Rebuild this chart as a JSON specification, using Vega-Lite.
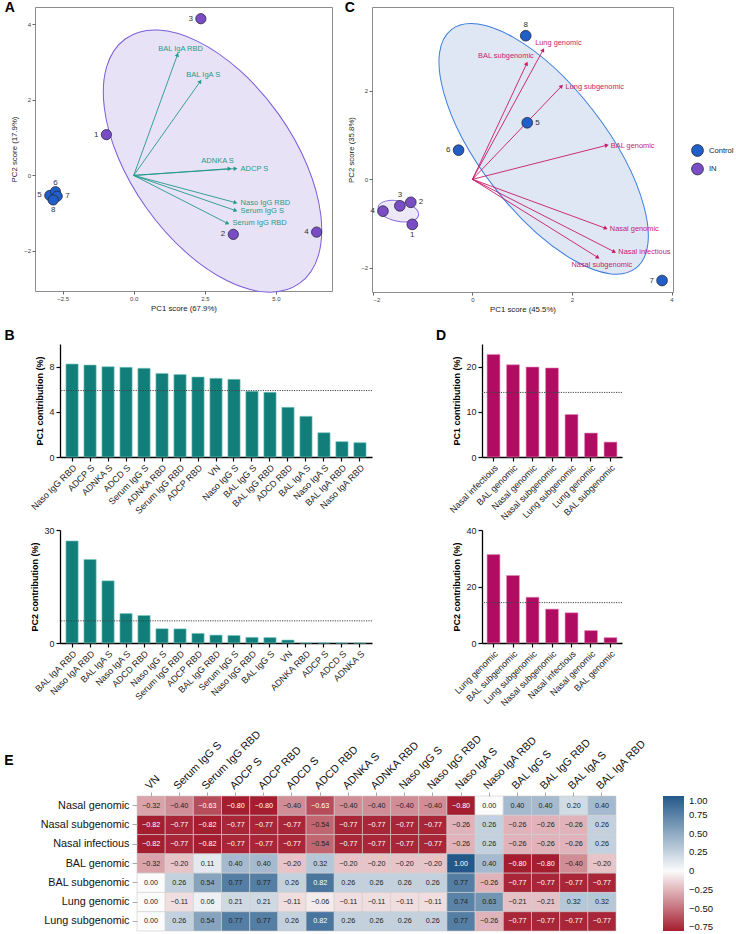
{
"$schema":"https://vega.github.io/schema/vega-lite/v6.json",
"background":"white",
"padding":{"left":3,"top":0,"right":0,"bottom":0},
"config":{
  "font":"Liberation Sans",
  "view":{"stroke":null},
  "title":{"fontSize":14,"fontWeight":"bold","anchor":"start","frame":"bounds","color":"#000","offset":4},
  "axis":{"grid":false}
},
"datasets":{
  "ptsA":[
    {"id":"1","group":"IN","x":-0.96,"y":1.08},
    {"id":"2","group":"IN","x":3.5,"y":-1.56},
    {"id":"3","group":"IN","x":2.36,"y":4.15},
    {"id":"4","group":"IN","x":6.43,"y":-1.5},
    {"id":"5","group":"Control","x":-2.95,"y":-0.53},
    {"id":"6","group":"Control","x":-2.75,"y":-0.43},
    {"id":"7","group":"Control","x":-2.69,"y":-0.55},
    {"id":"8","group":"Control","x":-2.83,"y":-0.65}
  ],
  "arrA":[
    {"var":"BAL IgA RBD","x":1.54,"y":3.2},
    {"var":"BAL IgA S","x":2.34,"y":2.49},
    {"var":"ADNKA S","x":3.37,"y":0.18},
    {"var":"ADCP S","x":3.58,"y":0.18},
    {"var":"Naso IgG RBD","x":3.58,"y":-0.72},
    {"var":"Serum IgG S","x":3.58,"y":-0.93},
    {"var":"Serum IgG RBD","x":3.3,"y":-1.27}
  ],
  "ptsC":[
    {"id":"1","group":"IN","x":-1.21,"y":-1.02},
    {"id":"2","group":"IN","x":-1.24,"y":-0.52},
    {"id":"3","group":"IN","x":-1.46,"y":-0.6},
    {"id":"4","group":"IN","x":-1.8,"y":-0.72},
    {"id":"5","group":"Control","x":1.1,"y":1.28},
    {"id":"6","group":"Control","x":-0.28,"y":0.66},
    {"id":"7","group":"Control","x":3.81,"y":-2.29},
    {"id":"8","group":"Control","x":1.07,"y":3.25}
  ],
  "arrC":[
    {"var":"Lung genomic","x":1.42,"y":2.93},
    {"var":"BAL subgenomic","x":1.09,"y":2.62},
    {"var":"Lung subgenomic","x":1.79,"y":2.11},
    {"var":"BAL genomic","x":2.7,"y":0.77},
    {"var":"Nasal genomic","x":2.68,"y":-1.11},
    {"var":"Nasal infectious","x":2.85,"y":-1.64},
    {"var":"Nasal subgenomic","x":2.52,"y":-1.77}
  ],
  "b1":[
    {"v":"Naso IgG RBD","c":8.23},{"v":"ADCP S","c":8.14},{"v":"ADNKA S","c":7.99},{"v":"ADCD S","c":7.94},
    {"v":"Serum IgG S","c":7.85},{"v":"ADNKA RBD","c":7.4},{"v":"Serum IgG RBD","c":7.29},{"v":"ADCP RBD","c":7.08},
    {"v":"VN","c":6.96},{"v":"Naso IgG S","c":6.87},{"v":"BAL IgG S","c":5.81},{"v":"BAL IgG RBD","c":5.72},
    {"v":"ADCD RBD","c":4.4},{"v":"BAL IgA S","c":3.6},{"v":"Naso IgA S","c":2.15},{"v":"BAL IgA RBD","c":1.36},
    {"v":"Naso IgA RBD","c":1.27}
  ],
  "b2":[
    {"v":"BAL IgA RBD","c":27.1},{"v":"Naso IgA RBD","c":22.2},{"v":"BAL IgA S","c":16.5},{"v":"Naso IgA S","c":7.8},
    {"v":"ADCD RBD","c":7.3},{"v":"Naso IgG S","c":3.8},{"v":"Serum IgG RBD","c":3.75},{"v":"ADCP RBD","c":2.55},
    {"v":"BAL IgG RBD","c":2.1},{"v":"Serum IgG S","c":2.0},{"v":"Naso IgG RBD","c":1.5},{"v":"BAL IgG S","c":1.45},
    {"v":"VN","c":0.8},{"v":"ADNKA RBD","c":0.05},{"v":"ADCP S","c":0.03},{"v":"ADCD S","c":0.02},{"v":"ADNKA S","c":0.02}
  ],
  "d1":[
    {"v":"Nasal infectious","c":22.7},{"v":"BAL genomic","c":20.4},{"v":"Nasal genomic","c":19.9},
    {"v":"Nasal subgenomic","c":19.7},{"v":"Lung subgenomic","c":9.4},{"v":"Lung genomic","c":5.3},{"v":"BAL subgenomic","c":3.3}
  ],
  "d2":[
    {"v":"Lung genomic","c":31.3},{"v":"BAL subgenomic","c":23.9},{"v":"Lung subgenomic","c":16.2},
    {"v":"Nasal subgenomic","c":12.0},{"v":"Nasal infectious","c":10.7},{"v":"Nasal genomic","c":4.4},{"v":"BAL genomic","c":1.9}
  ],
  "heat":[
    {"r":"Nasal genomic","c":"VN","v":-0.32},{"r":"Nasal genomic","c":"Serum IgG S","v":-0.40},{"r":"Nasal genomic","c":"Serum IgG RBD","v":-0.63},{"r":"Nasal genomic","c":"ADCP S","v":-0.80},{"r":"Nasal genomic","c":"ADCP RBD","v":-0.80},{"r":"Nasal genomic","c":"ADCD S","v":-0.40},{"r":"Nasal genomic","c":"ADCD RBD","v":-0.63},{"r":"Nasal genomic","c":"ADNKA S","v":-0.40},{"r":"Nasal genomic","c":"ADNKA RBD","v":-0.40},{"r":"Nasal genomic","c":"Naso IgG S","v":-0.40},{"r":"Nasal genomic","c":"Naso IgG RBD","v":-0.40},{"r":"Nasal genomic","c":"Naso IgA S","v":-0.80},{"r":"Nasal genomic","c":"Naso IgA RBD","v":0.00},{"r":"Nasal genomic","c":"BAL IgG S","v":0.40},{"r":"Nasal genomic","c":"BAL IgG RBD","v":0.40},{"r":"Nasal genomic","c":"BAL IgA S","v":0.20},{"r":"Nasal genomic","c":"BAL IgA RBD","v":0.40},
    {"r":"Nasal subgenomic","c":"VN","v":-0.82},{"r":"Nasal subgenomic","c":"Serum IgG S","v":-0.77},{"r":"Nasal subgenomic","c":"Serum IgG RBD","v":-0.82},{"r":"Nasal subgenomic","c":"ADCP S","v":-0.77},{"r":"Nasal subgenomic","c":"ADCP RBD","v":-0.77},{"r":"Nasal subgenomic","c":"ADCD S","v":-0.77},{"r":"Nasal subgenomic","c":"ADCD RBD","v":-0.54},{"r":"Nasal subgenomic","c":"ADNKA S","v":-0.77},{"r":"Nasal subgenomic","c":"ADNKA RBD","v":-0.77},{"r":"Nasal subgenomic","c":"Naso IgG S","v":-0.77},{"r":"Nasal subgenomic","c":"Naso IgG RBD","v":-0.77},{"r":"Nasal subgenomic","c":"Naso IgA S","v":-0.26},{"r":"Nasal subgenomic","c":"Naso IgA RBD","v":0.26},{"r":"Nasal subgenomic","c":"BAL IgG S","v":-0.26},{"r":"Nasal subgenomic","c":"BAL IgG RBD","v":-0.26},{"r":"Nasal subgenomic","c":"BAL IgA S","v":-0.26},{"r":"Nasal subgenomic","c":"BAL IgA RBD","v":0.26},
    {"r":"Nasal infectious","c":"VN","v":-0.82},{"r":"Nasal infectious","c":"Serum IgG S","v":-0.77},{"r":"Nasal infectious","c":"Serum IgG RBD","v":-0.82},{"r":"Nasal infectious","c":"ADCP S","v":-0.77},{"r":"Nasal infectious","c":"ADCP RBD","v":-0.77},{"r":"Nasal infectious","c":"ADCD S","v":-0.77},{"r":"Nasal infectious","c":"ADCD RBD","v":-0.54},{"r":"Nasal infectious","c":"ADNKA S","v":-0.77},{"r":"Nasal infectious","c":"ADNKA RBD","v":-0.77},{"r":"Nasal infectious","c":"Naso IgG S","v":-0.77},{"r":"Nasal infectious","c":"Naso IgG RBD","v":-0.77},{"r":"Nasal infectious","c":"Naso IgA S","v":-0.26},{"r":"Nasal infectious","c":"Naso IgA RBD","v":0.26},{"r":"Nasal infectious","c":"BAL IgG S","v":-0.26},{"r":"Nasal infectious","c":"BAL IgG RBD","v":-0.26},{"r":"Nasal infectious","c":"BAL IgA S","v":-0.26},{"r":"Nasal infectious","c":"BAL IgA RBD","v":0.26},
    {"r":"BAL genomic","c":"VN","v":-0.32},{"r":"BAL genomic","c":"Serum IgG S","v":-0.20},{"r":"BAL genomic","c":"Serum IgG RBD","v":0.11},{"r":"BAL genomic","c":"ADCP S","v":0.40},{"r":"BAL genomic","c":"ADCP RBD","v":0.40},{"r":"BAL genomic","c":"ADCD S","v":-0.20},{"r":"BAL genomic","c":"ADCD RBD","v":0.32},{"r":"BAL genomic","c":"ADNKA S","v":-0.20},{"r":"BAL genomic","c":"ADNKA RBD","v":-0.20},{"r":"BAL genomic","c":"Naso IgG S","v":-0.20},{"r":"BAL genomic","c":"Naso IgG RBD","v":-0.20},{"r":"BAL genomic","c":"Naso IgA S","v":1.00},{"r":"BAL genomic","c":"Naso IgA RBD","v":0.40},{"r":"BAL genomic","c":"BAL IgG S","v":-0.80},{"r":"BAL genomic","c":"BAL IgG RBD","v":-0.80},{"r":"BAL genomic","c":"BAL IgA S","v":-0.40},{"r":"BAL genomic","c":"BAL IgA RBD","v":-0.20},
    {"r":"BAL subgenomic","c":"VN","v":0.00},{"r":"BAL subgenomic","c":"Serum IgG S","v":0.26},{"r":"BAL subgenomic","c":"Serum IgG RBD","v":0.54},{"r":"BAL subgenomic","c":"ADCP S","v":0.77},{"r":"BAL subgenomic","c":"ADCP RBD","v":0.77},{"r":"BAL subgenomic","c":"ADCD S","v":0.26},{"r":"BAL subgenomic","c":"ADCD RBD","v":0.82},{"r":"BAL subgenomic","c":"ADNKA S","v":0.26},{"r":"BAL subgenomic","c":"ADNKA RBD","v":0.26},{"r":"BAL subgenomic","c":"Naso IgG S","v":0.26},{"r":"BAL subgenomic","c":"Naso IgG RBD","v":0.26},{"r":"BAL subgenomic","c":"Naso IgA S","v":0.77},{"r":"BAL subgenomic","c":"Naso IgA RBD","v":-0.26},{"r":"BAL subgenomic","c":"BAL IgG S","v":-0.77},{"r":"BAL subgenomic","c":"BAL IgG RBD","v":-0.77},{"r":"BAL subgenomic","c":"BAL IgA S","v":-0.77},{"r":"BAL subgenomic","c":"BAL IgA RBD","v":-0.77},
    {"r":"Lung genomic","c":"VN","v":0.00},{"r":"Lung genomic","c":"Serum IgG S","v":-0.11},{"r":"Lung genomic","c":"Serum IgG RBD","v":0.06},{"r":"Lung genomic","c":"ADCP S","v":0.21},{"r":"Lung genomic","c":"ADCP RBD","v":0.21},{"r":"Lung genomic","c":"ADCD S","v":-0.11},{"r":"Lung genomic","c":"ADCD RBD","v":-0.06},{"r":"Lung genomic","c":"ADNKA S","v":-0.11},{"r":"Lung genomic","c":"ADNKA RBD","v":-0.11},{"r":"Lung genomic","c":"Naso IgG S","v":-0.11},{"r":"Lung genomic","c":"Naso IgG RBD","v":-0.11},{"r":"Lung genomic","c":"Naso IgA S","v":0.74},{"r":"Lung genomic","c":"Naso IgA RBD","v":0.63},{"r":"Lung genomic","c":"BAL IgG S","v":-0.21},{"r":"Lung genomic","c":"BAL IgG RBD","v":-0.21},{"r":"Lung genomic","c":"BAL IgA S","v":0.32},{"r":"Lung genomic","c":"BAL IgA RBD","v":0.32},
    {"r":"Lung subgenomic","c":"VN","v":0.00},{"r":"Lung subgenomic","c":"Serum IgG S","v":0.26},{"r":"Lung subgenomic","c":"Serum IgG RBD","v":0.54},{"r":"Lung subgenomic","c":"ADCP S","v":0.77},{"r":"Lung subgenomic","c":"ADCP RBD","v":0.77},{"r":"Lung subgenomic","c":"ADCD S","v":0.26},{"r":"Lung subgenomic","c":"ADCD RBD","v":0.82},{"r":"Lung subgenomic","c":"ADNKA S","v":0.26},{"r":"Lung subgenomic","c":"ADNKA RBD","v":0.26},{"r":"Lung subgenomic","c":"Naso IgG S","v":0.26},{"r":"Lung subgenomic","c":"Naso IgG RBD","v":0.26},{"r":"Lung subgenomic","c":"Naso IgA S","v":0.77},{"r":"Lung subgenomic","c":"Naso IgA RBD","v":-0.26},{"r":"Lung subgenomic","c":"BAL IgG S","v":-0.77},{"r":"Lung subgenomic","c":"BAL IgG RBD","v":-0.77},{"r":"Lung subgenomic","c":"BAL IgA S","v":-0.77},{"r":"Lung subgenomic","c":"BAL IgA RBD","v":-0.77}
  ]
},
"resolve":{"scale":{"color":"independent"},"legend":{"color":"independent"}},
"columns":1,
"spacing":20,
"concat":[
 {"columns":1,
  "spacing":15,
  "resolve":{"scale":{"color":"independent"},"legend":{"color":"independent"}},
  "concat":[
   {"spacing":0,
    "resolve":{"legend":{"color":"independent"}},
    "hconcat":[
     {"width":1,"height":1,"data":{"values":[]},"mark":"point"},
     {"spacing":11,
      "resolve":{"legend":{"color":"independent"}},
      "hconcat":[
     {
      "title":{"text":"A","dx":-6,"dy":12},
      "width":297,"height":284,
      "view":{"stroke":"#8c8c8c","strokeWidth":1},
      "encoding":{
        "x":{"field":"x","type":"quantitative","scale":{"domain":[-3.47,6.97],"nice":false,"zero":false},
             "axis":{"title":"PC1 score (67.9%)","values":[-2.5,0,2.5,5],"format":".1f","domain":false,"tickSize":3,"tickColor":"#666","labelFontSize":6,"labelColor":"#444","titleFontSize":7.8,"titleFontWeight":"normal","titleColor":"#222","labelPadding":1.5,"titlePadding":3}},
        "y":{"field":"y","type":"quantitative","scale":{"domain":[-3.06,4.46],"nice":false,"zero":false},
             "axis":{"title":"PC2 score (17.9%)","values":[-2,0,2,4],"domain":false,"tickSize":3,"tickColor":"#666","labelFontSize":6,"labelColor":"#444","titleFontSize":7.8,"titleFontWeight":"normal","titleColor":"#222","labelPadding":1.5,"titlePadding":5}}
      },
      "layer":[
        {"data":{"values":[{"x":2.77,"y":0.38}]},
         "mark":{"type":"point","shape":"M-1,0A1,0.54,0,1,0,1,0A1,0.54,0,1,0,-1,0Z","size":90120,"angle":54.6,"filled":true,"fill":"#e8e2f6","stroke":"#7b5cd8","strokeWidth":1,"opacity":1}},
        {"data":{"values":[{}]},"mark":{"type":"rule","strokeDash":[4,3],"color":"#7a7a7a","strokeWidth":1.3},
         "encoding":{"x":{"datum":0},"y":{"datum":-3.06},"y2":{"datum":4.46}}},
        {"data":{"values":[{}]},"mark":{"type":"rule","strokeDash":[4,3],"color":"#7a7a7a","strokeWidth":1.3},
         "encoding":{"y":{"datum":0},"x":{"datum":-3.47},"x2":{"datum":6.97}}},
        {"data":{"name":"arrA"},"mark":{"type":"rule","color":"#24998b","strokeWidth":0.9},
         "encoding":{"x2":{"datum":0},"y2":{"datum":0}}},
        {"data":{"name":"arrA"},
         "transform":[{"calculate":"atan2(-datum.y*37.77, datum.x*28.45)*180/PI","as":"ang"}],
         "mark":{"type":"point","shape":"triangle-right","filled":true,"size":20,"color":"#24998b","opacity":1},
         "encoding":{"angle":{"field":"ang","type":"quantitative","scale":null}}},
        {"data":{"name":"arrA"},"transform":[{"filter":{"field":"var","oneOf":["BAL IgA RBD","BAL IgA S"]}}],
         "mark":{"type":"text","fontSize":7.5,"color":"#1f9a8b","align":"center","baseline":"middle","dx":3,"dy":-6},
         "encoding":{"text":{"field":"var"}}},
        {"data":{"name":"arrA"},"transform":[{"filter":{"field":"var","oneOf":["ADNKA S"]}}],
         "mark":{"type":"text","fontSize":7.5,"color":"#1f9a8b","align":"center","baseline":"middle","dx":-12,"dy":-8},
         "encoding":{"text":{"field":"var"}}},
        {"data":{"name":"arrA"},"transform":[{"filter":{"field":"var","oneOf":["ADCP S","Naso IgG RBD","Serum IgG S","Serum IgG RBD"]}}],
         "mark":{"type":"text","fontSize":7.5,"color":"#1f9a8b","align":"left","baseline":"middle","dx":5,"dy":0},
         "encoding":{"text":{"field":"var"}}},
        {"data":{"name":"ptsA"},
         "mark":{"type":"point","shape":"circle","filled":true,"size":105,"stroke":"#2a2a3a","strokeWidth":0.8,"opacity":1},
         "encoding":{"color":{"field":"group","type":"nominal","scale":{"domain":["Control","IN"],"range":["#1f5fc7","#7a4cc6"]},"legend":null}}},
        {"data":{"name":"ptsA"},"transform":[{"filter":{"field":"id","oneOf":["1","2","3","4","5"]}}],
         "mark":{"type":"text","fontSize":8,"color":"#333","align":"right","baseline":"middle","dx":-8},
         "encoding":{"text":{"field":"id"}}},
        {"data":{"name":"ptsA"},"transform":[{"filter":{"field":"id","oneOf":["7"]}}],
         "mark":{"type":"text","fontSize":8,"color":"#333","align":"left","baseline":"middle","dx":8},
         "encoding":{"text":{"field":"id"}}},
        {"data":{"name":"ptsA"},"transform":[{"filter":{"field":"id","oneOf":["6"]}}],
         "mark":{"type":"text","fontSize":8,"color":"#333","align":"center","baseline":"middle","dy":-9},
         "encoding":{"text":{"field":"id"}}},
        {"data":{"name":"ptsA"},"transform":[{"filter":{"field":"id","oneOf":["8"]}}],
         "mark":{"type":"text","fontSize":8,"color":"#333","align":"center","baseline":"middle","dy":10},
         "encoding":{"text":{"field":"id"}}}
      ]
     },
     {
      "title":{"text":"C","dx":-3,"dy":12},
      "width":301,"height":285,
      "view":{"stroke":"#8c8c8c","strokeWidth":1},
      "encoding":{
        "x":{"field":"x","type":"quantitative","scale":{"domain":[-2.02,4.03],"nice":false,"zero":false},
             "axis":{"title":"PC1 score (45.5%)","values":[-2,0,2,4],"domain":false,"tickSize":3,"tickColor":"#666","labelFontSize":6,"labelColor":"#444","titleFontSize":7.8,"titleFontWeight":"normal","titleColor":"#222","labelPadding":1.5,"titlePadding":3}},
        "y":{"field":"y","type":"quantitative","scale":{"domain":[-2.55,3.9],"nice":false,"zero":false},
             "axis":{"title":"PC2 score (35.8%)","values":[-2,0,2],"domain":false,"tickSize":3,"tickColor":"#666","labelFontSize":6,"labelColor":"#444","titleFontSize":7.8,"titleFontWeight":"normal","titleColor":"#222","labelPadding":1.5,"titlePadding":5}}
      },
      "layer":[
        {"data":{"values":[{"x":1.43,"y":0.69}]},
         "mark":{"type":"point","shape":"M-1,0A1,0.415,0,1,0,1,0A1,0.415,0,1,0,-1,0Z","size":90960,"angle":52.3,"filled":true,"fill":"#dfe7f4","stroke":"#3b7ddb","strokeWidth":1,"opacity":1}},
        {"data":{"values":[{"x":-1.49,"y":-0.72}]},
         "mark":{"type":"point","shape":"M-1,0A1,0.49,0,1,0,1,0A1,0.49,0,1,0,-1,0Z","size":1700,"angle":12,"filled":true,"fill":"#ece8f8","stroke":"#8a6fe0","strokeWidth":1,"opacity":1}},
        {"data":{"values":[{}]},"mark":{"type":"rule","strokeDash":[4,3],"color":"#333","strokeWidth":1.2},
         "encoding":{"x":{"datum":0},"y":{"datum":-2.55},"y2":{"datum":3.9}}},
        {"data":{"values":[{}]},"mark":{"type":"rule","strokeDash":[4,3],"color":"#333","strokeWidth":1.2},
         "encoding":{"y":{"datum":0},"x":{"datum":-2.02},"x2":{"datum":4.03}}},
        {"data":{"name":"arrC"},"mark":{"type":"rule","color":"#c81a6a","strokeWidth":0.9},
         "encoding":{"x2":{"datum":0},"y2":{"datum":0}}},
        {"data":{"name":"arrC"},
         "transform":[{"calculate":"atan2(-datum.y*44.19, datum.x*49.75)*180/PI","as":"ang"}],
         "mark":{"type":"point","shape":"triangle-right","filled":true,"size":20,"color":"#c81a6a","opacity":1},
         "encoding":{"angle":{"field":"ang","type":"quantitative","scale":null}}},
        {"data":{"name":"arrC"},"transform":[{"filter":{"field":"var","oneOf":["Lung subgenomic","BAL genomic","Nasal genomic","Nasal infectious"]}}],
         "mark":{"type":"text","fontSize":7.4,"color":"#c81a6a","align":"left","baseline":"middle","dx":4,"dy":0.5},
         "encoding":{"text":{"field":"var"}}},
        {"data":{"name":"arrC"},"transform":[{"filter":{"field":"var","oneOf":["Lung genomic"]}}],
         "mark":{"type":"text","fontSize":7.4,"color":"#c81a6a","align":"left","baseline":"middle","dx":-8,"dy":-7},
         "encoding":{"text":{"field":"var"}}},
        {"data":{"name":"arrC"},"transform":[{"filter":{"field":"var","oneOf":["BAL subgenomic"]}}],
         "mark":{"type":"text","fontSize":7.4,"color":"#c81a6a","align":"right","baseline":"middle","dx":7,"dy":-8},
         "encoding":{"text":{"field":"var"}}},
        {"data":{"name":"arrC"},"transform":[{"filter":{"field":"var","oneOf":["Nasal subgenomic"]}}],
         "mark":{"type":"text","fontSize":7.4,"color":"#c81a6a","align":"center","baseline":"middle","dx":4,"dy":7.5},
         "encoding":{"text":{"field":"var"}}},
        {"data":{"name":"ptsC"},
         "mark":{"type":"point","shape":"circle","filled":true,"size":115,"stroke":"#2a2a3a","strokeWidth":0.8,"opacity":1},
         "encoding":{"color":{"field":"group","type":"nominal","scale":{"domain":["Control","IN"],"range":["#1f5fc7","#7a4cc6"]},
           "legend":{"orient":"none","legendX":319,"legendY":137,"title":null,"symbolType":"circle","symbolSize":140,"labelFontSize":7.6,"labelColor":"#222","symbolStrokeColor":"#2a2a3a","symbolStrokeWidth":0.8,"rowPadding":1.5,"labelOffset":5,"padding":0,"symbolOpacity":1}}}},
        {"data":{"name":"ptsC"},"transform":[{"filter":{"field":"id","oneOf":["4","6","7"]}}],
         "mark":{"type":"text","fontSize":8,"color":"#333","align":"right","baseline":"middle","dx":-8},
         "encoding":{"text":{"field":"id"}}},
        {"data":{"name":"ptsC"},"transform":[{"filter":{"field":"id","oneOf":["2","5"]}}],
         "mark":{"type":"text","fontSize":8,"color":"#333","align":"left","baseline":"middle","dx":8},
         "encoding":{"text":{"field":"id"}}},
        {"data":{"name":"ptsC"},"transform":[{"filter":{"field":"id","oneOf":["3","8"]}}],
         "mark":{"type":"text","fontSize":8,"color":"#333","align":"center","baseline":"middle","dy":-11},
         "encoding":{"text":{"field":"id"}}},
        {"data":{"name":"ptsC"},"transform":[{"filter":{"field":"id","oneOf":["1"]}}],
         "mark":{"type":"text","fontSize":8,"color":"#333","align":"center","baseline":"middle","dy":11},
         "encoding":{"text":{"field":"id"}}}
      ]
     }
      ]
     }
    ]
   },
   {"spacing":0,
    "hconcat":[
     {"width":1,"height":1,"data":{"values":[]},"mark":"point"},
     {"columns":2,"align":"each","spacing":{"row":4,"column":63},
    "concat":[
     {"title":{"text":"B","dx":-25,"dy":3},
      "width":312,"height":113,"data":{"name":"b1"},
      "layer":[
       {"mark":{"type":"bar","color":"#117e79","stroke":"#7ccbc4","strokeWidth":0.6},
        "encoding":{
         "x":{"field":"v","type":"nominal","sort":null,"scale":{"paddingInner":0.32,"paddingOuter":0.33},
              "axis":{"title":null,"labelAngle":-45,"labelFontSize":9,"labelColor":"#222","tickSize":4,"tickWidth":1.2,"tickColor":"#000","domainColor":"#000","domainWidth":1.3,"labelPadding":2}},
         "y":{"field":"c","type":"quantitative","scale":{"domain":[0,10],"nice":false},
              "axis":{"title":"PC1 contribution (%)","values":[0,2,4,6,8,10],"titleFontSize":9,"titleFontWeight":"bold","titleColor":"#000","labelFontSize":9,"labelColor":"#222","tickSize":4,"tickWidth":1.2,"tickColor":"#000","domainColor":"#000","domainWidth":1.3,"titlePadding":4,"labelPadding":2}}}},
       {"data":{"values":[{"t":5.88}]},"mark":{"type":"rule","color":"#444","strokeDash":[1.2,1.2],"strokeWidth":1},
        "encoding":{"y":{"field":"t","type":"quantitative"}}}
      ]},
     {"title":{"text":"D","dx":-12,"dy":3},
      "width":140,"height":113,"data":{"name":"d1"},
      "layer":[
       {"mark":{"type":"bar","color":"#b00c62","stroke":"#e58ab8","strokeWidth":0.6},
        "encoding":{
         "x":{"field":"v","type":"nominal","sort":null,"scale":{"paddingInner":0.34,"paddingOuter":0.26},
              "axis":{"title":null,"labelAngle":-45,"labelFontSize":9,"labelColor":"#222","tickSize":4,"tickWidth":1.2,"tickColor":"#000","domainColor":"#000","domainWidth":1.3,"labelPadding":2}},
         "y":{"field":"c","type":"quantitative","scale":{"domain":[0,25],"nice":false},
              "axis":{"title":"PC1 contribution (%)","values":[0,5,10,15,20,25],"titleFontSize":9,"titleFontWeight":"bold","titleColor":"#000","labelFontSize":9,"labelColor":"#222","tickSize":4,"tickWidth":1.2,"tickColor":"#000","domainColor":"#000","domainWidth":1.3,"titlePadding":4,"labelPadding":2}}}},
       {"data":{"values":[{"t":14.29}]},"mark":{"type":"rule","color":"#444","strokeDash":[1.2,1.2],"strokeWidth":1},
        "encoding":{"y":{"field":"t","type":"quantitative"}}}
      ]},
     {"width":312,"height":113,"data":{"name":"b2"},
      "layer":[
       {"mark":{"type":"bar","color":"#117e79","stroke":"#7ccbc4","strokeWidth":0.6},
        "encoding":{
         "x":{"field":"v","type":"nominal","sort":null,"scale":{"paddingInner":0.32,"paddingOuter":0.33},
              "axis":{"title":null,"labelAngle":-45,"labelFontSize":9,"labelColor":"#222","tickSize":4,"tickWidth":1.2,"tickColor":"#000","domainColor":"#000","domainWidth":1.3,"labelPadding":2}},
         "y":{"field":"c","type":"quantitative","scale":{"domain":[0,30],"nice":false},
              "axis":{"title":"PC2 contribution (%)","values":[0,10,20,30],"titleFontSize":9,"titleFontWeight":"bold","titleColor":"#000","labelFontSize":9,"labelColor":"#222","tickSize":4,"tickWidth":1.2,"tickColor":"#000","domainColor":"#000","domainWidth":1.3,"titlePadding":4,"labelPadding":2}}}},
       {"data":{"values":[{"t":5.88}]},"mark":{"type":"rule","color":"#444","strokeDash":[1.2,1.2],"strokeWidth":1},
        "encoding":{"y":{"field":"t","type":"quantitative"}}}
      ]},
     {"width":140,"height":113,"data":{"name":"d2"},
      "layer":[
       {"mark":{"type":"bar","color":"#b00c62","stroke":"#e58ab8","strokeWidth":0.6},
        "encoding":{
         "x":{"field":"v","type":"nominal","sort":null,"scale":{"paddingInner":0.34,"paddingOuter":0.26},
              "axis":{"title":null,"labelAngle":-45,"labelFontSize":9,"labelColor":"#222","tickSize":4,"tickWidth":1.2,"tickColor":"#000","domainColor":"#000","domainWidth":1.3,"labelPadding":2}},
         "y":{"field":"c","type":"quantitative","scale":{"domain":[0,40],"nice":false},
              "axis":{"title":"PC2 contribution (%)","values":[0,10,20,30,40],"titleFontSize":9,"titleFontWeight":"bold","titleColor":"#000","labelFontSize":9,"labelColor":"#222","tickSize":4,"tickWidth":1.2,"tickColor":"#000","domainColor":"#000","domainWidth":1.3,"titlePadding":4,"labelPadding":2}}}},
       {"data":{"values":[{"t":14.29}]},"mark":{"type":"rule","color":"#444","strokeDash":[1.2,1.2],"strokeWidth":1},
        "encoding":{"y":{"field":"t","type":"quantitative"}}}
      ]}
    ]
     }
    ]
   }
  ]
 },
 {"spacing":0,
  "hconcat":[
  {"width":1,"height":1,"data":{"values":[]},"mark":"point"},
  {"title":{"text":"E","dx":-36,"dy":44},
   "width":479,"height":135,"data":{"name":"heat"},
   "encoding":{
    "x":{"field":"c","type":"nominal","sort":["VN","Serum IgG S","Serum IgG RBD","ADCP S","ADCP RBD","ADCD S","ADCD RBD","ADNKA S","ADNKA RBD","Naso IgG S","Naso IgG RBD","Naso IgA S","Naso IgA RBD","BAL IgG S","BAL IgG RBD","BAL IgA S","BAL IgA RBD"],
         "axis":{"orient":"top","title":null,"labelAngle":-45,"labelAlign":"left","labelBaseline":"bottom","labelFontSize":10.8,"labelColor":"#111","tickColor":"#aaa","tickSize":4,"domain":false,"labelPadding":1}},
    "y":{"field":"r","type":"nominal","sort":["Nasal genomic","Nasal subgenomic","Nasal infectious","BAL genomic","BAL subgenomic","Lung genomic","Lung subgenomic"],
         "axis":{"title":null,"labelFontSize":10.8,"labelColor":"#111","tickColor":"#aaa","tickSize":5,"domain":false,"labelPadding":3}}
   },
   "layer":[
    {"mark":{"type":"rect","stroke":"#cfcfcf","strokeWidth":0.6},
     "encoding":{"color":{"field":"v","type":"quantitative",
       "scale":{"domain":[-0.8,0,1],"range":["#a51e2f","#fbfbfb","#23598a"],"interpolate":"rgb","clamp":true},
       "legend":{"title":null,"orient":"right","direction":"vertical","gradientLength":135,"gradientThickness":21,"gradientStrokeWidth":0,"values":[1,0.75,0.5,0.25,0,-0.25,-0.5,-0.75],"labelExpr":"datum.value == 0 ? '0' : format(datum.value, '.2f')","labelFontSize":9.5,"labelColor":"#111","labelOverlap":false,"offset":15,"labelOffset":5}}}},
    {"mark":{"type":"text","fontSize":7.2},
     "encoding":{"text":{"field":"v","type":"quantitative","format":".2f"},
       "color":{"condition":{"test":"datum.v <= -0.6 || datum.v >= 0.8","value":"#ffffff"},"value":"#222222"}}}
   ]
  }
 ]}
]
}
